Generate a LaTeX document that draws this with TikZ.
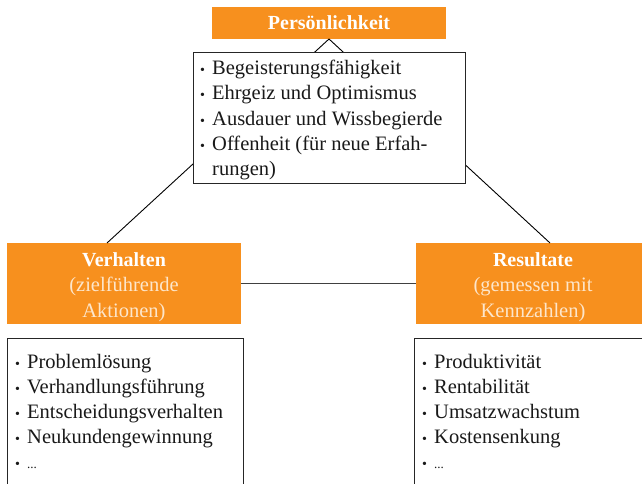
\documentclass[tikz,border=0pt]{standalone}
\usepackage{fontspec}
\setmainfont{Liberation Serif}
\definecolor{ora}{HTML}{F7901E}
\definecolor{pale}{HTML}{FDE6CB}
\begin{document}
\begin{tikzpicture}[x=1pt,y=-1pt,
  obox/.style={fill=ora,draw=none,anchor=north west,inner sep=0,outer sep=0},
  wbox/.style={fill=white,draw=black!85,line width=0.9pt,anchor=north west,inner sep=0,outer sep=0},
  ttl/.style={anchor=base,text=white,font=\fontsize{20}{24}\selectfont\bfseries,inner sep=0},
  sub/.style={anchor=base,text=pale,font=\fontsize{20.5}{24}\selectfont,inner sep=0},
  itm/.style={anchor=base west,text=black!90,font=\fontsize{20.5}{24}\selectfont,inner sep=0},
  conn/.style={draw=black,line width=0.9pt}]
\clip (0,0) rectangle (642,484);
\fill[white] (0,0) rectangle (642,484);
% boxes
\node[obox,minimum width=234pt,minimum height=32pt] (pers) at (212,7) {};
\node[obox,minimum width=234pt,minimum height=81pt] (verh) at (7,243) {};
\node[obox,minimum width=234pt,minimum height=81pt] (res) at (416,243) {};
\coordinate (vtop) at (107,243);
\coordinate (rtop) at (550,243);
% connectors
\draw[conn] (pers.south) -- (vtop);
\draw[conn] (pers.south) -- (rtop);
\draw[draw=black!75,line width=1.3pt] (verh.east) -- (res.west);
% white boxes
\node[wbox,minimum width=272pt,minimum height=131pt] (top) at (193,52) {};
\node[wbox,minimum width=236pt,minimum height=170pt] (lbox) at (7,338) {};
\node[wbox,minimum width=236pt,minimum height=170pt] (rbox) at (414,338) {};
% titles
\node[ttl] (tp) at (329,30) {Persönlichkeit};
\node[ttl] (tv) at (124,266) {Verhalten};
\node[sub] (sv1) at (124,291) {(zielführende};
\node[sub] (sv2) at (124,317) {Aktionen)};
\node[ttl] (tr) at (533,266) {Resultate};
\node[sub] (sr1) at (533,291) {(gemessen mit};
\node[sub] (sr2) at (533,317) {Kennzahlen)};
% lists
\newcommand{\bul}{\makebox[12pt][l]{\fontsize{14}{14}\selectfont•}}
\newcommand{\sdots}{{\fontsize{13}{13}\selectfont...}}
\foreach \t [count=\i] in {Begeisterungsfähigkeit,Ehrgeiz und Optimismus,Ausdauer und Wissbegierde,Offenheit (für neue Erfah-}
  \node[itm] (p\i) at (200,75+25*\i-25) {\bul\t};
\node[itm] (p5) at (212,175) {rungen)};
\foreach \t [count=\i] in {Problemlösung,Verhandlungsführung,Entscheidungsverhalten,Neukundengewinnung,\sdots}
  \node[itm] (v\i) at (15,368+25*\i-25) {\bul\t};
\foreach \t [count=\i] in {Produktivität,Rentabilität,Umsatzwachstum,Kostensenkung,\sdots}
  \node[itm] (r\i) at (422,368+25*\i-25) {\bul\t};
\end{tikzpicture}
\end{document}
